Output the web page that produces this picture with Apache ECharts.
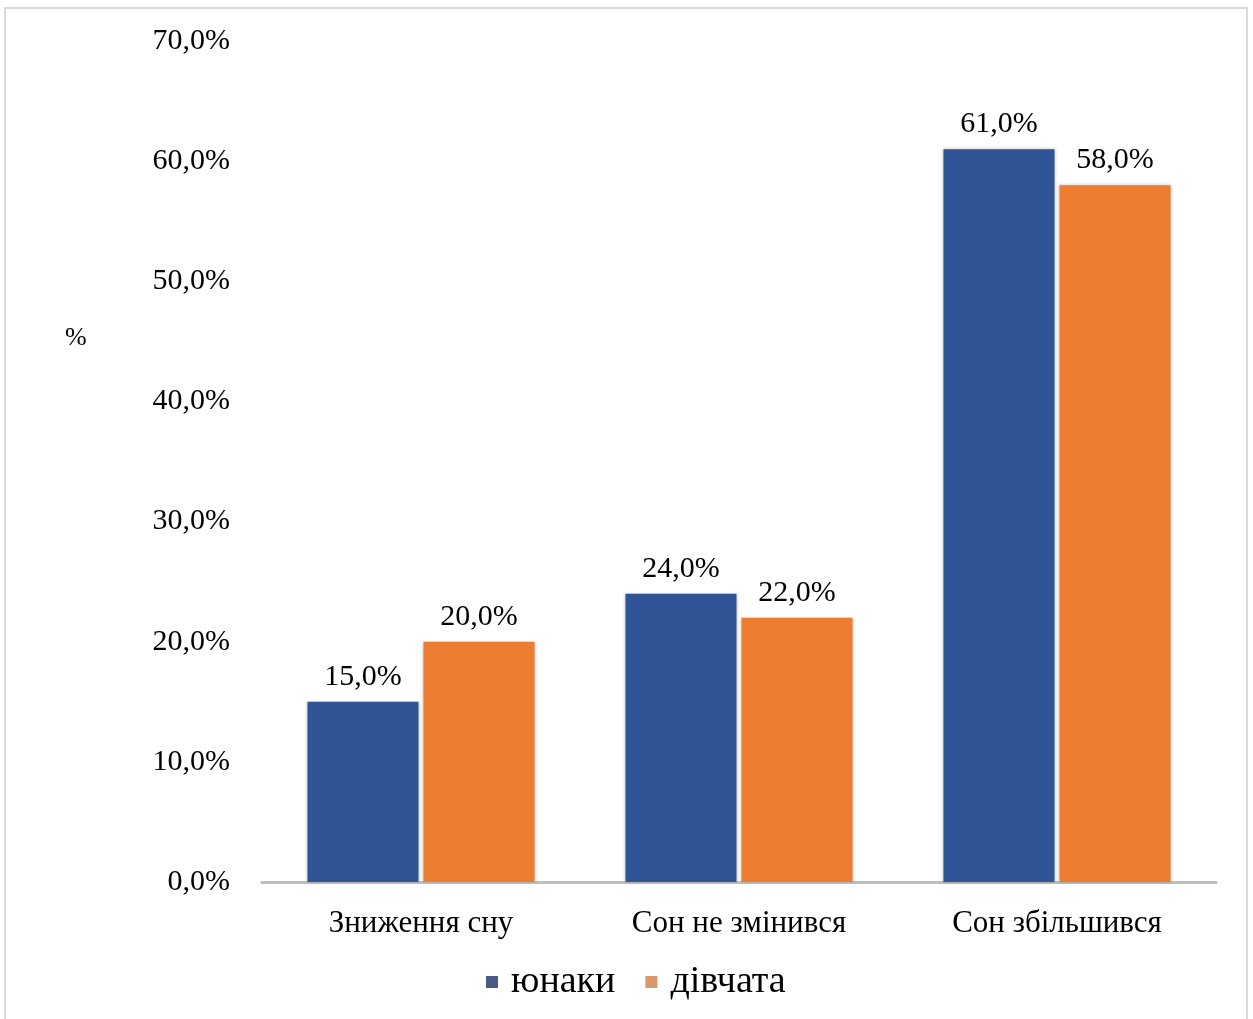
<!DOCTYPE html>
<html>
<head>
<meta charset="utf-8">
<script src="https://cdn.jsdelivr.net/npm/echarts@6/dist/echarts.min.js"></script>
<style>
  html, body { margin: 0; padding: 0; background: #fff; }
  #chart { width: 1253px; height: 1019px; }
</style>
</head>
<body>
<div id="chart"></div>
<script>
var categories = ['Зниження сну', 'Сон не змінився', 'Сон збільшився'];
var seriesNames = ['юнаки', 'дівчата'];
var boysValues = [15.0, 24.0, 61.0];
var girlsValues = [20.0, 22.0, 58.0];
var yTicks = [0, 10, 20, 30, 40, 50, 60, 70];

var serif = '"Liberation Serif", "DejaVu Serif", serif';

function pct(v) {
  return v.toFixed(1).replace('.', ',') + '%';
}

var chart = echarts.init(document.getElementById('chart'));

var option = {
  animation: false,
  textStyle: { fontFamily: serif },
  graphic: [
    {
      type: 'rect',
      shape: { x: 5, y: 8, width: 1242, height: 1030 },
      style: { fill: 'none', stroke: '#d9d9d9', lineWidth: 2 }
    },
    {
      type: 'text',
      left: 65,
      top: 325,
      style: { text: '%', font: '26px ' + serif, fill: '#000' }
    }
  ],
  legend: {
    bottom: 13,
    left: 481,
    itemWidth: 12,
    itemHeight: 12,
    itemGap: 30,
    icon: 'rect',
    textStyle: { fontSize: 38, color: '#000', fontFamily: serif, padding: [0, 0, 0, 8] },
    data: [
      { name: seriesNames[0], itemStyle: { color: '#475b85' } },
      { name: seriesNames[1], itemStyle: { color: '#d9976c' } }
    ]
  },
  grid: {
    left: 262,
    right: 37,
    top: 41,
    bottom: 137
  },
  xAxis: {
    type: 'category',
    data: categories,
    axisLine: { lineStyle: { color: '#bfbfbf', width: 3 } },
    axisTick: { show: false },
    axisLabel: { fontSize: 31, color: '#000', margin: 26, fontFamily: serif }
  },
  yAxis: {
    type: 'value',
    min: yTicks[0],
    max: yTicks[yTicks.length - 1],
    interval: 10,
    splitLine: { show: false },
    axisLine: { show: false },
    axisTick: { show: false },
    axisLabel: {
      fontSize: 30,
      color: '#000',
      margin: 32,
      fontFamily: serif,
      formatter: function (v) { return pct(v); }
    }
  },
  series: [
    {
      name: seriesNames[0],
      type: 'bar',
      data: boysValues,
      barGap: '4.5%',
      barCategoryGap: '28.6%',
      itemStyle: { color: '#2f5597', shadowColor: 'rgba(0,0,0,0.25)', shadowBlur: 3 },
      label: {
        show: true,
        position: 'top',
        distance: 10,
        fontSize: 30,
        color: '#000',
        fontFamily: serif,
        formatter: function (p) { return pct(p.value); }
      }
    },
    {
      name: seriesNames[1],
      type: 'bar',
      data: girlsValues,
      itemStyle: { color: '#ed7d31', shadowColor: 'rgba(0,0,0,0.25)', shadowBlur: 3 },
      label: {
        show: true,
        position: 'top',
        distance: 10,
        fontSize: 30,
        color: '#000',
        fontFamily: serif,
        formatter: function (p) { return pct(p.value); }
      }
    }
  ]
};

chart.setOption(option);
</script>
</body>
</html>
